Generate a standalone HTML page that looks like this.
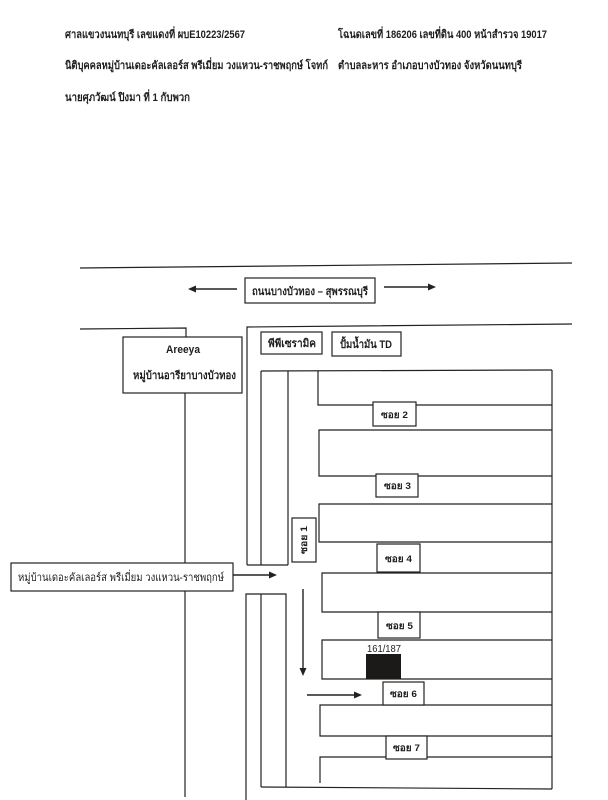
<!DOCTYPE html>
<html>
<head>
<meta charset="utf-8">
<style>
  html,body{margin:0;padding:0;background:#fff;}
  svg{display:block;}
  text{font-family:"Liberation Sans","DejaVu Sans",sans-serif;fill:#1e1e1e;}
</style>
</head>
<body>
<svg width="608" height="800" viewBox="0 0 608 800" xmlns="http://www.w3.org/2000/svg">
  <rect width="608" height="800" fill="#fff"/>

  <!-- Header text -->
  <g font-size="11" font-weight="bold">
    <text x="65" y="38" textLength="180" lengthAdjust="spacingAndGlyphs">ศาลแขวงนนทบุรี เลขแดงที่ ผบE10223/2567</text>
    <text x="338" y="38" textLength="209" lengthAdjust="spacingAndGlyphs">โฉนดเลขที่ 186206 เลขที่ดิน 400 หน้าสำรวจ 19017</text>
    <text x="65" y="69" textLength="263" lengthAdjust="spacingAndGlyphs">นิติบุคคลหมู่บ้านเดอะคัลเลอร์ส พรีเมี่ยม วงแหวน-ราชพฤกษ์ โจทก์</text>
    <text x="338" y="69" textLength="184" lengthAdjust="spacingAndGlyphs">ตำบลละหาร อำเภอบางบัวทอง จังหวัดนนทบุรี</text>
    <text x="65" y="101" textLength="125" lengthAdjust="spacingAndGlyphs">นายศุภวัฒน์ ปิงมา ที่ 1 กับพวก</text>
  </g>

  <g stroke="#222" stroke-width="1.2" fill="none">
    <!-- main road -->
    <path d="M80 268 L572 263"/>
    <path d="M80 329 L186 328 L186 337"/>
    <path d="M247 565 L247 327 L572 324"/>
    <!-- Areeya road -->
    <path d="M185 393 L185 797"/>
    <!-- upper strip -->
    <path d="M261 371 L261 565"/>
    <path d="M288 371 L288 565"/>
    <path d="M247 565 L288 565"/>
    <path d="M261 371 L552 370"/>
    <!-- right edge -->
    <path d="M552 370 L552 789"/>
    <!-- blocks -->
    <path d="M318 371 L318 405 L552 405"/>
    <path d="M552 430 L319 430 L319 476 L552 476"/>
    <path d="M552 504 L319 504 L319 542 L552 542"/>
    <path d="M552 573 L322 573 L322 612 L552 612"/>
    <path d="M552 640 L322 640 L322 679 L552 679"/>
    <path d="M552 705 L320 705 L320 736 L552 736"/>
    <path d="M552 757 L320 757 L320 783"/>
    <path d="M261 787 L552 789"/>
    <!-- lower strip -->
    <path d="M246 800 L246 594 L286 594 L286 787"/>
    <path d="M261 594 L261 787"/>
  </g>

  <!-- Arrows -->
  <g stroke="#222" stroke-width="1.4" fill="#222">
    <line x1="237" y1="289" x2="195" y2="289"/>
    <polygon points="188,289 196,285.5 196,292.5" stroke="none"/>
    <line x1="384" y1="287" x2="429" y2="287"/>
    <polygon points="436,287 428,283.5 428,290.5" stroke="none"/>
    <line x1="233" y1="575" x2="270" y2="575"/>
    <polygon points="277,575 269,571.5 269,578.5" stroke="none"/>
    <line x1="303" y1="589" x2="303" y2="668"/>
    <polygon points="303,676 299.5,668 306.5,668" stroke="none"/>
    <line x1="307" y1="695" x2="355" y2="695"/>
    <polygon points="362,695 354,691.5 354,698.5" stroke="none"/>
  </g>

  <!-- Boxes -->
  <g stroke="#222" stroke-width="1.2" fill="#fff">
    <rect x="245" y="278" width="130" height="25"/>
    <rect x="123" y="337" width="119" height="56"/>
    <rect x="261" y="332" width="61" height="22"/>
    <rect x="332" y="332" width="69" height="24"/>
    <rect x="11" y="563" width="222" height="28"/>
    <rect x="292" y="518" width="24" height="44"/>
    <rect x="373" y="402" width="43" height="24"/>
    <rect x="376" y="474" width="42" height="23"/>
    <rect x="377" y="544" width="43" height="28"/>
    <rect x="378" y="612" width="42" height="26"/>
    <rect x="383" y="682" width="41" height="23"/>
    <rect x="386" y="736" width="41" height="23"/>
  </g>

  <!-- black lot -->
  <rect x="366" y="654" width="35" height="25" fill="#1c1a18"/>
  <text x="367" y="652" font-size="10.5" textLength="34" lengthAdjust="spacingAndGlyphs">161/187</text>

  <!-- Box labels -->
  <g font-size="11" font-weight="bold">
    <text x="252" y="295" textLength="116" lengthAdjust="spacingAndGlyphs">ถนนบางบัวทอง – สุพรรณบุรี</text>
    <text x="166" y="353" textLength="34" lengthAdjust="spacingAndGlyphs">Areeya</text>
    <text x="133" y="379" textLength="103" lengthAdjust="spacingAndGlyphs">หมู่บ้านอารียาบางบัวทอง</text>
    <text x="268" y="347" textLength="48" lengthAdjust="spacingAndGlyphs">พีพีเซรามิค</text>
    <text x="340" y="348" textLength="52" lengthAdjust="spacingAndGlyphs">ปั้มน้ำมัน TD</text>
    <text x="18" y="581" font-weight="normal" textLength="206" lengthAdjust="spacingAndGlyphs">หมู่บ้านเดอะคัลเลอร์ส พรีเมี่ยม วงแหวน-ราชพฤกษ์</text>
  </g>
  <g font-size="9.5" font-weight="bold">
    <text x="381" y="418" textLength="27" lengthAdjust="spacingAndGlyphs">ซอย 2</text>
    <text x="384" y="489" textLength="27" lengthAdjust="spacingAndGlyphs">ซอย 3</text>
    <text x="385" y="562" textLength="27" lengthAdjust="spacingAndGlyphs">ซอย 4</text>
    <text x="386" y="629" textLength="27" lengthAdjust="spacingAndGlyphs">ซอย 5</text>
    <text x="390" y="697" textLength="27" lengthAdjust="spacingAndGlyphs">ซอย 6</text>
    <text x="393" y="751" textLength="27" lengthAdjust="spacingAndGlyphs">ซอย 7</text>
    <text transform="translate(307,554) rotate(-90)" x="0" y="0" textLength="28" lengthAdjust="spacingAndGlyphs">ซอย 1</text>
  </g>
</svg>
</body>
</html>
